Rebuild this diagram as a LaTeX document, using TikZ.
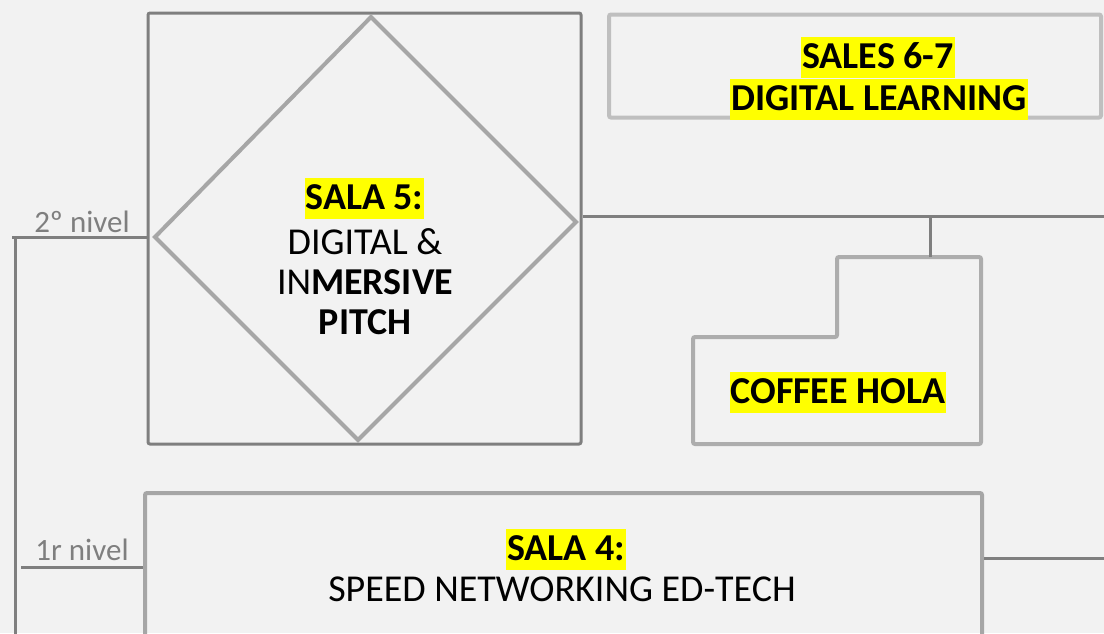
\documentclass[tikz,border=0pt]{standalone}
\usepackage{fontspec}
\setmainfont{Carlito}
\usepackage{xcolor}
\definecolor{bggray}{HTML}{F2F2F2}
\definecolor{darkline}{HTML}{7F7F7F}
\definecolor{midline}{HTML}{A6A6A6}
\definecolor{lightline}{HTML}{BFBFBF}
\definecolor{coffeeline}{HTML}{ADADAD}
\definecolor{hilite}{HTML}{FFFF00}

\tikzset{
  roombox/.style = {draw, rounded corners=1pt, inner sep=0pt},
  link/.style = {draw=darkline, line width=1.5pt},
  hl/.style = {fill=hilite, anchor=base, inner xsep=0.5pt, inner ysep=0pt, text height=15.5pt, text depth=5pt,
               font=\fontsize{19}{20}\selectfont\bfseries},
  plain/.style = {font=\fontsize{19}{20}\selectfont, align=center},
  levellabel/.style = {text=darkline, anchor=base, font=\fontsize{15.5}{17}\selectfont}
}

\begin{document}
\begin{tikzpicture}[x=0.5pt, y=-0.5pt]
		\fill[bggray] (0,0) rectangle (1104,633);
		\useasboundingbox (0,0) rectangle (1104,633);
		% rooms
		\node [roombox, draw=darkline, line width=1.5pt, minimum width=216.5pt, minimum height=215.5pt] (sala5) at (364.5,228.5) {};
		\draw [midline, line width=2pt, line join=miter] (371,17) -- (576,222) -- (358,440) -- (155,237) -- cycle;
		\node [roombox, draw=lightline, line width=2pt, minimum width=246pt, minimum height=51.5pt] (sales) at (855,66) {};
		\node [roombox, draw=midline, line width=2pt, minimum width=418.5pt, minimum height=110pt] (sala4) at (563.5,603) {};
		\draw [coffeeline, line width=2pt, rounded corners=1pt] (693,337) -- (837,337) -- (837,257) -- (981,257) -- (981,444) -- (693,444) -- cycle;
		% labels
		\node [hl] (sala5title) at (364.5,209) {SALA 5:};
		\node [plain] (sala5text) at (365,282) {DIGITAL \&\\IN\textbf{MERSIVE}\\\textbf{PITCH}};
		\node [hl] (salestitle) at (878,68) {SALES 6-7};
		\node [hl, inner xsep=1pt] (salestext) at (879,110) {DIGITAL LEARNING\hspace{4pt}};
		\node [hl] (coffee) at (838,403) {COFFEE HOLA};
		\node [hl] (sala4title) at (566,560) {SALA 4:};
		\node [plain, anchor=base] (sala4text) at (562,601) {SPEED NETWORKING ED-TECH};
		\node [levellabel] (lvl2text) at (82,232) {2º nivel};
		\node [levellabel] (lvl1text) at (82,560) {1r nivel};
		% connectors
		\coordinate (east5) at (1110,216.5);
		\coordinate (east4) at (1110,558);
		\coordinate (cofftop) at (930,257);
		\coordinate (lvl2) at (12,237);
		\coordinate (lvl1) at (21,567);
		\coordinate (spine) at (15,237);
		\coordinate (spinebot) at (15,640);
		\draw [link] (east5 -| sala5.east) -- (east5);
		\draw [link] (cofftop) -- (cofftop |- east5);
		\draw [link] (east4 -| sala4.east) -- (east4);
		\draw [link] (lvl2) -- (lvl2 -| sala5.west);
		\draw [link] (lvl1) -- (lvl1 -| sala4.west);
		\draw [link] (spine) -- (spinebot);
\end{tikzpicture}
\end{document}
